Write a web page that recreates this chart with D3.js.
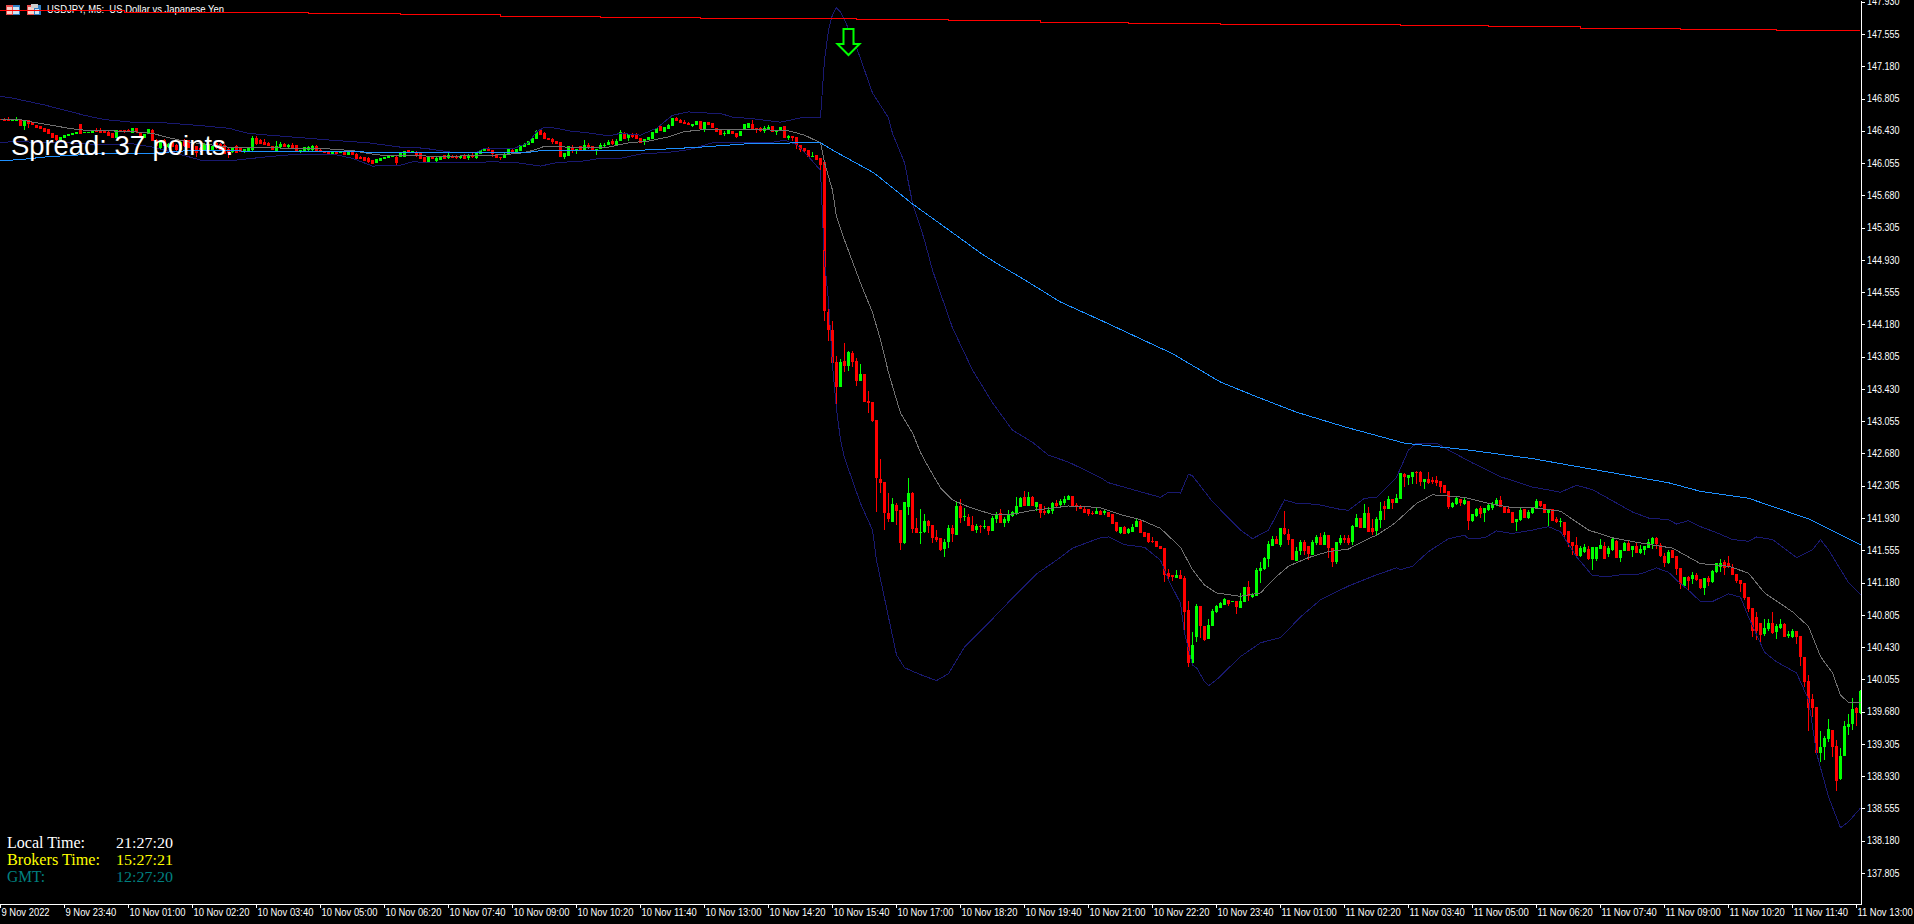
<!DOCTYPE html>
<html><head><meta charset="utf-8">
<style>html,body{margin:0;padding:0;background:#000;overflow:hidden}svg{display:block}</style>
<script src="https://cdnjs.cloudflare.com/ajax/libs/d3/7.8.5/d3.min.js"></script>
</head><body><svg id="c" width="1914" height="924"></svg>
<script>
const title = "USDJPY, M5:  US Dollar vs Japanese Yen";
const spreadText = "Spread: 37 points.";
const timeLabels = ["9 Nov 2022","9 Nov 23:40","10 Nov 01:00","10 Nov 02:20","10 Nov 03:40","10 Nov 05:00","10 Nov 06:20","10 Nov 07:40","10 Nov 09:00","10 Nov 10:20","10 Nov 11:40","10 Nov 13:00","10 Nov 14:20","10 Nov 15:40","10 Nov 17:00","10 Nov 18:20","10 Nov 19:40","10 Nov 21:00","10 Nov 22:20","10 Nov 23:40","11 Nov 01:00","11 Nov 02:20","11 Nov 03:40","11 Nov 05:00","11 Nov 06:20","11 Nov 07:40","11 Nov 09:00","11 Nov 10:20","11 Nov 11:40","11 Nov 13:00"];
const priceTicks = [147.930,147.555,147.180,146.805,146.430,146.055,145.680,145.305,144.930,144.555,144.180,143.805,143.430,143.055,142.680,142.305,141.930,141.555,141.180,140.805,140.430,140.055,139.680,139.305,138.930,138.555,138.180,137.805];
const clockRows = ["Local Time:","Brokers Time:","GMT:"];
const clockValues = ["21:27:20","15:27:21","12:27:20"];
const sellBar = 212, sellPrice = 147.31;

const opens = [
146.57,146.57,146.57,146.54,146.54,146.55,146.49,146.55,146.53,146.50,
146.48,146.46,146.45,146.41,146.38,146.32,146.35,146.37,146.38,146.39,
146.51,146.40,146.41,146.41,146.44,146.44,146.43,146.42,146.40,146.35,
146.44,146.44,146.44,146.41,146.46,146.41,146.35,146.39,146.44,146.32,
146.23,146.32,146.24,146.30,146.27,146.21,146.32,146.32,146.28,146.25,
146.23,146.21,146.21,146.21,146.29,146.28,146.27,146.22,146.18,146.25,
146.23,146.18,146.19,146.21,146.35,146.32,146.30,146.29,146.25,146.20,
146.24,146.28,146.24,146.27,146.26,146.18,146.20,146.21,146.21,146.25,
146.21,146.19,146.18,146.15,146.20,146.17,146.20,146.15,146.18,146.16,
146.13,146.12,146.11,146.09,146.05,146.08,146.10,146.11,146.12,146.13,
146.12,146.13,146.21,146.17,146.18,146.17,146.13,146.07,146.13,146.08,
146.09,146.15,146.11,146.14,146.14,146.11,146.14,146.11,146.15,146.11,
146.16,146.19,146.23,146.21,146.16,146.13,146.11,146.16,146.21,146.18,
146.19,146.24,146.26,146.29,146.34,146.44,146.40,146.35,146.33,146.31,
146.30,146.12,146.14,146.24,146.19,146.25,146.21,146.27,146.25,146.21,
146.22,146.25,146.26,146.31,146.27,146.31,146.41,146.35,146.39,146.38,
146.35,146.30,146.32,146.34,146.40,146.48,146.42,146.45,146.48,146.58,
146.56,146.53,146.52,146.49,146.50,146.54,146.45,146.53,146.52,146.46,
146.44,146.39,146.39,146.43,146.41,146.37,146.44,146.46,146.51,146.46,
146.46,146.43,146.44,146.48,146.42,146.43,146.48,146.35,146.37,146.36,
146.27,146.23,146.21,146.12,146.15,146.11,146.07,144.32,144.12,143.74,
143.45,143.76,143.70,143.85,143.76,143.52,143.60,143.29,143.28,143.07,
142.38,142.35,141.99,141.88,142.08,142.02,141.64,142.06,142.22,141.81,
141.76,141.77,141.90,141.85,141.71,141.70,141.57,141.65,141.81,141.73,
142.07,141.94,141.94,141.85,141.79,141.84,141.82,141.84,141.78,141.92,
141.99,141.87,141.90,141.95,141.98,142.06,142.17,142.07,142.17,142.06,
142.09,142.01,141.99,142.01,142.10,142.08,142.10,142.14,142.19,142.08,
142.07,142.04,142.03,141.99,141.98,142.01,141.99,142.00,141.98,141.88,
141.76,141.83,141.76,141.77,141.82,141.90,141.77,141.76,141.66,141.66,
141.60,141.58,141.29,141.27,141.23,141.27,141.23,140.86,140.25,140.55,
140.91,140.68,140.52,140.68,140.84,140.88,140.92,140.98,140.95,140.97,
140.89,140.95,141.13,141.01,141.02,141.32,141.34,141.45,141.61,141.69,
141.62,141.81,141.75,141.69,141.43,141.55,141.65,141.60,141.50,141.64,
141.71,141.62,141.73,141.58,141.42,141.64,141.70,141.70,141.65,141.83,
141.93,141.81,141.99,141.81,141.78,141.91,142.07,142.03,142.15,142.10,
142.15,142.44,142.40,142.41,142.47,142.47,142.35,142.38,142.37,142.37,
142.36,142.31,142.24,142.06,142.09,142.15,142.09,142.13,141.90,141.95,
142.05,141.99,142.02,142.05,142.09,142.14,142.07,142.03,142.00,141.88,
141.91,142.03,141.93,141.99,142.05,142.13,142.09,141.99,142.03,141.92,
141.88,141.88,141.78,141.65,141.62,141.49,141.54,141.57,141.45,141.45,
141.57,141.60,141.51,141.56,141.66,141.47,141.55,141.64,141.56,141.60,
141.52,141.56,141.58,141.63,141.70,141.62,141.49,141.41,141.56,141.49,
141.35,141.14,141.25,141.22,141.27,141.22,141.12,141.23,141.19,141.30,
141.36,141.42,141.41,141.36,141.28,141.21,141.17,141.01,140.88,140.78,
140.71,140.58,140.64,140.71,140.61,140.65,140.70,140.56,140.55,140.62,
140.56,140.32,140.04,139.83,139.73,139.20,139.27,139.36,139.47,139.28,
138.90,139.17,139.50,139.54,139.72,139.66];

const highs = [
146.57,146.58,146.59,146.56,146.59,146.55,146.54,146.56,146.53,146.50,
146.48,146.46,146.45,146.41,146.38,146.36,146.38,146.39,146.40,146.42,
146.51,146.42,146.42,146.43,146.46,146.46,146.44,146.43,146.40,146.44,
146.44,146.44,146.45,146.46,146.46,146.42,146.39,146.45,146.45,146.33,
146.31,146.33,146.29,146.31,146.28,146.31,146.33,146.32,146.29,146.25,
146.24,146.29,146.28,146.25,146.30,146.29,146.28,146.23,146.24,146.26,
146.24,146.22,146.24,146.37,146.37,146.33,146.33,146.30,146.25,146.31,
146.30,146.29,146.28,146.29,146.27,146.21,146.24,146.25,146.26,146.26,
146.22,146.19,146.19,146.20,146.20,146.19,146.21,146.18,146.18,146.17,
146.14,146.13,146.12,146.09,146.10,146.11,146.12,146.14,146.15,146.14,
146.18,146.19,146.21,146.20,146.19,146.17,146.13,146.13,146.14,146.12,
146.14,146.15,146.17,146.15,146.15,146.15,146.16,146.16,146.17,146.17,
146.21,146.23,146.24,146.21,146.16,146.13,146.18,146.22,146.23,146.22,
146.27,146.29,146.31,146.35,146.44,146.45,146.42,146.35,146.35,146.31,
146.30,146.17,146.25,146.26,146.22,146.25,146.32,146.29,146.25,146.22,
146.29,146.29,146.32,146.33,146.33,146.44,146.42,146.39,146.41,146.40,
146.35,146.33,146.36,146.42,146.46,146.50,146.47,146.51,146.58,146.59,
146.57,146.56,146.53,146.51,146.54,146.54,146.53,146.53,146.52,146.46,
146.44,146.43,146.44,146.43,146.41,146.43,146.51,146.52,146.55,146.46,
146.47,146.48,146.50,146.48,146.43,146.47,146.48,146.38,146.37,146.36,
146.27,146.23,146.21,146.18,146.15,146.11,146.07,144.44,144.22,143.81,
143.78,143.96,143.87,143.87,143.79,143.72,143.60,143.41,143.28,143.07,
142.62,142.35,142.22,142.16,142.10,142.02,142.12,142.40,142.23,141.93,
142.04,141.98,141.91,141.85,141.79,141.70,141.69,141.85,141.85,142.12,
142.15,142.05,141.98,141.95,141.86,141.85,141.91,141.84,141.95,142.00,
142.04,141.94,142.02,142.01,142.17,142.18,142.24,142.23,142.19,142.12,
142.09,142.07,142.06,142.12,142.14,142.15,142.19,142.20,142.19,142.10,
142.08,142.07,142.03,142.01,142.06,142.02,142.04,142.00,141.98,141.88,
141.83,141.84,141.81,141.86,141.92,141.91,141.77,141.76,141.71,141.66,
141.60,141.58,141.34,141.27,141.33,141.33,141.26,140.97,140.61,140.93,
140.91,140.68,140.76,140.87,140.92,140.95,141.00,140.98,140.97,140.97,
141.06,141.13,141.20,141.06,141.35,141.42,141.48,141.66,141.72,141.72,
141.81,142.01,141.80,141.69,141.59,141.67,141.67,141.60,141.68,141.73,
141.76,141.77,141.73,141.58,141.65,141.73,141.73,141.73,141.85,141.98,
141.93,142.09,142.06,141.92,141.94,142.12,142.13,142.19,142.15,142.21,
142.45,142.45,142.43,142.47,142.48,142.48,142.38,142.47,142.41,142.42,
142.36,142.31,142.24,142.12,142.17,142.15,142.16,142.13,141.98,142.05,
142.07,142.05,142.10,142.12,142.16,142.19,142.07,142.07,142.00,141.92,
142.05,142.04,142.02,142.06,142.15,142.13,142.09,142.02,142.04,141.94,
141.93,141.88,141.78,141.65,141.71,141.61,141.63,141.61,141.59,141.59,
141.69,141.65,141.61,141.70,141.67,141.56,141.65,141.67,141.60,141.64,
141.62,141.61,141.69,141.71,141.71,141.64,141.52,141.56,141.56,141.49,
141.35,141.25,141.26,141.30,141.29,141.22,141.23,141.26,141.33,141.41,
141.45,141.44,141.49,141.40,141.28,141.21,141.17,141.01,140.88,140.84,
140.71,140.76,140.76,140.84,140.70,140.76,140.71,140.62,140.64,140.62,
140.56,140.32,140.11,139.89,139.73,139.46,139.40,139.59,139.47,139.35,
139.26,139.57,139.65,139.84,139.73,139.93];

const lows = [
146.55,146.54,146.54,146.54,146.54,146.48,146.44,146.46,146.50,146.46,
146.45,146.42,146.39,146.35,146.31,146.32,146.35,146.37,146.38,146.39,
146.39,146.40,146.41,146.41,146.42,146.41,146.40,146.37,146.35,146.35,
146.42,146.41,146.42,146.41,146.41,146.36,146.35,146.39,146.31,146.24,
146.22,146.25,146.23,146.24,146.20,146.20,146.24,146.23,146.20,146.12,
146.18,146.20,146.19,146.20,146.22,146.20,146.16,146.11,146.17,146.17,
146.18,146.17,146.18,146.20,146.27,146.28,146.26,146.25,146.21,146.20,
146.23,146.24,146.23,146.23,146.18,146.17,146.20,146.20,146.20,146.20,
146.19,146.17,146.15,146.15,146.16,146.17,146.15,146.15,146.15,146.09,
146.10,146.08,146.06,146.04,146.05,146.08,146.10,146.11,146.12,146.03,
146.12,146.13,146.18,146.17,146.13,146.10,146.07,146.07,146.10,146.07,
146.09,146.10,146.10,146.11,146.10,146.10,146.10,146.09,146.11,146.10,
146.16,146.19,146.20,146.13,146.11,146.09,146.11,146.16,146.18,146.18,
146.19,146.24,146.26,146.29,146.34,146.38,146.33,146.32,146.28,146.28,
146.13,146.10,146.14,146.17,146.16,146.21,146.21,146.23,146.20,146.15,
146.22,146.24,146.26,146.26,146.26,146.31,146.34,146.31,146.35,146.33,
146.29,146.27,146.32,146.34,146.40,146.43,146.42,146.45,146.48,146.54,
146.52,146.51,146.50,146.47,146.50,146.45,146.42,146.50,146.46,146.42,
146.38,146.37,146.39,146.39,146.35,146.37,146.44,146.46,146.45,146.40,
146.42,146.41,146.44,146.42,146.38,146.43,146.35,146.32,146.31,146.22,
146.18,146.17,146.12,146.12,146.09,145.97,144.22,143.99,143.65,143.17,
143.45,143.63,143.64,143.69,143.46,143.52,143.28,143.15,143.05,142.00,
142.22,141.79,141.88,141.88,141.85,141.56,141.63,141.97,141.76,141.76,
141.63,141.76,141.76,141.64,141.65,141.55,141.48,141.58,141.65,141.73,
141.87,141.90,141.84,141.78,141.76,141.76,141.80,141.73,141.78,141.87,
141.87,141.83,141.87,141.94,141.97,142.06,142.07,142.07,142.07,142.01,
141.93,141.97,141.98,141.98,142.05,142.07,142.08,142.14,142.07,142.01,
142.03,141.99,141.95,141.96,141.98,141.97,141.97,141.94,141.86,141.77,
141.75,141.75,141.75,141.77,141.82,141.76,141.71,141.64,141.64,141.59,
141.57,141.19,141.21,141.20,141.23,141.22,140.61,140.20,140.25,140.49,
140.53,140.50,140.52,140.68,140.83,140.88,140.92,140.91,140.95,140.82,
140.89,140.95,140.97,141.00,141.02,141.18,141.33,141.36,141.61,141.63,
141.59,141.73,141.62,141.44,141.43,141.50,141.50,141.44,141.50,141.62,
141.62,141.62,141.47,141.36,141.40,141.62,141.64,141.62,141.62,141.82,
141.81,141.81,141.77,141.73,141.73,141.81,141.91,142.03,142.03,142.10,
142.15,142.29,142.31,142.33,142.33,142.30,142.27,142.33,142.32,142.30,
142.22,142.22,142.03,142.05,142.08,142.07,142.08,141.79,141.88,141.94,
141.93,141.88,142.01,142.02,142.07,142.06,141.99,141.99,141.87,141.78,
141.90,141.93,141.92,141.98,142.03,142.06,141.99,141.84,141.90,141.87,
141.83,141.71,141.59,141.50,141.48,141.48,141.52,141.44,141.33,141.43,
141.57,141.45,141.48,141.55,141.47,141.42,141.55,141.55,141.48,141.52,
141.51,141.50,141.58,141.57,141.57,141.48,141.36,141.40,141.47,141.27,
141.11,141.12,141.09,141.16,141.20,141.11,141.04,141.14,141.18,141.29,
141.30,141.27,141.35,141.27,141.18,141.07,140.98,140.84,140.55,140.51,
140.48,140.56,140.62,140.58,140.52,140.64,140.55,140.54,140.54,140.47,
140.21,139.97,139.46,139.62,139.20,139.10,139.12,139.33,139.15,138.76,
138.89,139.17,139.41,139.47,139.51,139.65];

const closes = [
146.55,146.54,146.54,146.56,146.57,146.49,146.54,146.51,146.50,146.46,
146.45,146.42,146.39,146.35,146.32,146.36,146.38,146.39,146.40,146.42,
146.39,146.42,146.42,146.43,146.42,146.41,146.40,146.37,146.35,146.44,
146.42,146.42,146.42,146.46,146.42,146.36,146.39,146.45,146.31,146.25,
146.30,146.25,146.28,146.24,146.21,146.30,146.25,146.23,146.20,146.17,
146.19,146.28,146.27,146.25,146.23,146.21,146.16,146.17,146.24,146.17,
146.18,146.22,146.23,146.35,146.28,146.28,146.26,146.25,146.21,146.25,
146.28,146.24,146.27,146.23,146.18,146.21,146.24,146.24,146.25,146.20,
146.19,146.17,146.15,146.20,146.16,146.19,146.15,146.18,146.15,146.10,
146.10,146.08,146.07,146.04,146.10,146.11,146.12,146.14,146.15,146.05,
146.18,146.19,146.18,146.20,146.15,146.10,146.07,146.13,146.10,146.11,
146.14,146.10,146.15,146.11,146.11,146.14,146.10,146.15,146.13,146.17,
146.21,146.23,146.20,146.16,146.11,146.11,146.16,146.22,146.18,146.22,
146.27,146.28,146.31,146.35,146.43,146.38,146.33,146.32,146.30,146.28,
146.13,146.17,146.25,146.19,146.22,146.21,146.27,146.23,146.20,146.22,
146.27,146.27,146.30,146.28,146.31,146.42,146.34,146.39,146.36,146.34,
146.29,146.33,146.36,146.42,146.46,146.43,146.47,146.50,146.58,146.54,
146.52,146.51,146.50,146.51,146.54,146.45,146.53,146.50,146.46,146.42,
146.38,146.41,146.44,146.39,146.36,146.43,146.51,146.52,146.45,146.45,
146.43,146.46,146.47,146.42,146.43,146.47,146.35,146.37,146.35,146.27,
146.21,146.19,146.13,146.14,146.09,146.03,144.34,144.12,143.73,143.45,
143.74,143.70,143.86,143.74,143.52,143.60,143.28,143.27,143.06,142.40,
142.34,141.99,141.92,142.09,142.01,141.64,142.12,142.22,141.80,141.76,
141.77,141.90,141.84,141.70,141.67,141.56,141.65,141.81,141.75,142.07,
141.93,141.95,141.84,141.78,141.84,141.83,141.84,141.78,141.93,141.98,
141.87,141.92,141.97,142.00,142.07,142.16,142.07,142.17,142.07,142.12,
141.99,141.99,142.02,142.10,142.07,142.13,142.15,142.19,142.07,142.06,
142.03,141.99,141.98,141.98,142.01,141.97,142.01,141.94,141.86,141.78,
141.82,141.75,141.80,141.83,141.90,141.76,141.71,141.65,141.65,141.59,
141.57,141.27,141.25,141.25,141.27,141.22,140.84,140.25,140.45,140.91,
140.68,140.51,140.69,140.85,140.91,140.94,140.99,140.93,140.97,140.90,
140.97,141.13,141.02,141.03,141.33,141.35,141.46,141.63,141.69,141.63,
141.81,141.74,141.68,141.44,141.55,141.65,141.55,141.51,141.65,141.71,
141.62,141.73,141.58,141.42,141.65,141.70,141.68,141.64,141.84,141.93,
141.81,141.99,141.77,141.77,141.92,142.01,142.03,142.15,142.10,142.16,
142.45,142.41,142.43,142.47,142.45,142.35,142.38,142.34,142.35,142.34,
142.29,142.22,142.06,142.11,142.16,142.10,142.14,141.90,141.98,142.04,
141.98,142.05,142.08,142.09,142.14,142.06,141.99,141.99,141.87,141.92,
142.02,141.93,142.00,142.05,142.13,142.07,141.99,142.02,141.90,141.88,
141.90,141.73,141.64,141.61,141.49,141.58,141.59,141.45,141.59,141.59,
141.62,141.45,141.58,141.69,141.47,141.56,141.64,141.55,141.60,141.52,
141.57,141.60,141.65,141.70,141.63,141.49,141.41,141.54,141.47,141.34,
141.16,141.25,141.20,141.27,141.21,141.12,141.23,141.19,141.31,141.41,
141.41,141.35,141.36,141.27,141.20,141.16,141.00,140.87,140.62,140.62,
140.57,140.65,140.71,140.59,140.67,140.70,140.55,140.58,140.62,140.55,
140.32,140.03,139.72,139.72,139.20,139.27,139.37,139.48,139.27,138.87,
139.17,139.51,139.54,139.71,139.66,139.92];

// Long moving average, red (step line)
const redBars = [0,31,53,77,100,125,150,175,200,214,237,260,282,305,327,350,372,395,420,444,465];
const redVals = [147.83,147.81,147.80,147.79,147.78,147.76,147.75,147.74,147.73,147.72,147.71,147.69,147.68,147.67,147.66,147.65,147.64,147.62,147.61,147.60,147.60];

// Moving average, blue
const blueBars = [0,6,12,20,24,38,47,100,132,135,158,167,175,187,200,205,209,218,220,228,237,245,248,257,265,275,293,305,314,324,336,351,367,383,400,417,425,437,452,465];
const blueVals = [146.08,146.10,146.13,146.15,146.17,146.17,146.20,146.18,146.18,146.20,146.20,146.22,146.24,146.28,146.29,146.29,146.18,145.95,145.88,145.58,145.28,145.01,144.92,144.67,144.44,144.23,143.84,143.51,143.34,143.16,142.99,142.80,142.72,142.62,142.48,142.34,142.24,142.16,141.92,141.62];

// Bollinger middle, grey
const midBars = [0,5,8,12,17,20,27,33,38,42,47,52,57,63,70,75,82,88,94,100,105,110,117,125,130,133,136,142,147,152,157,162,167,171,175,180,187,192,197,201,205,206,208,209,211,213,215,218,220,222,225,228,230,232,235,238,242,248,252,255,258,262,267,272,275,280,285,290,295,298,301,304,310,315,319,322,327,332,337,342,344,348,350,354,358,366,372,378,383,390,397,403,410,418,425,432,437,441,448,452,455,458,460,462,465];
const midVals = [146.56,146.56,146.53,146.50,146.46,146.44,146.43,146.42,146.40,146.35,146.30,146.27,146.24,146.24,146.23,146.23,146.22,146.20,146.15,146.14,146.14,146.13,146.14,146.15,146.17,146.20,146.25,146.24,146.23,146.24,146.29,146.31,146.36,146.42,146.44,146.45,146.44,146.44,146.43,146.38,146.29,146.06,145.74,145.43,145.16,144.91,144.66,144.32,144.00,143.62,143.15,142.92,142.69,142.52,142.28,142.14,142.06,141.97,141.97,141.99,142.02,142.04,142.07,142.06,142.05,141.97,141.91,141.81,141.59,141.33,141.15,141.06,141.02,141.06,141.25,141.37,141.47,141.54,141.57,141.69,141.73,141.85,141.93,142.10,142.20,142.17,142.10,142.05,142.05,142.01,141.79,141.70,141.64,141.58,141.40,141.37,141.29,141.06,140.84,140.67,140.32,140.13,139.87,139.79,139.79];

// Bollinger upper
const upBars = [0,3,11,21,26,33,42,50,57,62,67,83,92,100,103,107,113,119,121,128,132,134,136,139,142,148,152,155,160,164,168,172,175,180,183,188,195,200,205,206,207,208,209,210,211,214,218,222,223,226,228,231,233,238,243,248,253,258,262,267,275,277,290,292,295,297,298,303,310,313,317,321,324,329,335,337,341,344,349,350,352,354,359,362,368,375,383,390,394,398,408,412,417,419,422,425,429,433,437,439,443,449,453,455,457,462,465];
const upVals = [146.83,146.81,146.73,146.61,146.56,146.53,146.52,146.49,146.46,146.40,146.38,146.32,146.29,146.24,146.24,146.22,146.18,146.18,146.23,146.22,146.29,146.42,146.47,146.46,146.43,146.40,146.37,146.40,146.38,146.46,146.61,146.65,146.64,146.63,146.59,146.57,146.53,146.58,146.59,147.25,147.60,147.78,147.86,147.81,147.72,147.40,146.87,146.58,146.40,146.06,145.59,145.16,144.81,144.14,143.65,143.27,142.95,142.81,142.66,142.58,142.40,142.34,142.17,142.23,142.22,142.44,142.42,142.12,141.79,141.69,141.79,142.14,142.10,142.09,142.03,142.02,142.16,142.17,142.40,142.51,142.72,142.80,142.80,142.72,142.57,142.41,142.29,142.23,142.31,142.26,142.00,141.93,141.91,141.86,141.90,141.83,141.76,141.68,141.66,141.71,141.68,141.47,141.56,141.68,141.56,141.18,141.04];

// Bollinger lower
const lowBars = [0,4,10,17,25,33,38,43,50,57,67,75,83,88,93,100,103,108,117,123,129,135,139,146,150,155,160,167,172,178,183,192,196,199,202,205,206,207,208,209,210,211,215,218,219,221,224,226,230,234,237,241,247,253,259,264,268,272,275,277,281,286,290,292,295,296,298,299,301,302,304,310,315,320,325,330,337,344,349,350,353,357,362,366,367,371,374,378,383,387,390,394,398,402,405,410,414,417,419,422,425,428,432,435,437,441,444,449,452,454,457,460,462,465];
const lowVals = [146.29,146.31,146.29,146.29,146.27,146.28,146.24,146.18,146.09,146.08,146.13,146.16,146.16,146.11,146.02,146.03,146.07,146.06,146.06,146.07,146.06,146.02,146.06,146.08,146.11,146.11,146.16,146.18,146.21,146.29,146.29,146.29,146.32,146.27,146.13,145.97,144.91,144.46,143.71,143.19,142.84,142.63,142.10,141.79,141.44,141.00,140.34,140.19,140.11,140.04,140.12,140.43,140.71,141.00,141.28,141.44,141.58,141.65,141.70,141.71,141.62,141.59,141.44,141.21,140.94,140.59,140.22,140.19,140.03,139.98,140.05,140.32,140.48,140.54,140.78,140.98,141.14,141.27,141.35,141.33,141.37,141.54,141.69,141.73,141.69,141.70,141.78,141.75,141.79,141.83,141.77,141.48,141.26,141.25,141.27,141.28,141.35,141.30,141.21,141.09,140.96,140.96,141.05,141.01,140.78,140.37,140.26,140.13,139.82,139.20,138.69,138.33,138.40,138.56];

const W = 1914, H = 924, plotR = 1861, plotB = 904;
const svg = d3.select("#c");
svg.append("rect").attr("width", W).attr("height", H).attr("fill", "#000");

const x = d3.scaleLinear().domain([0, 465.25]).range([0, plotR]);
const y = d3.scaleLinear().domain([147.95, 137.4445]).range([0, plotB]);

// Title icons
const icons = svg.append("g").attr("shape-rendering", "crispEdges");
const box = (bx,by,bw,bh,f) => icons.append("rect").attr("x",bx).attr("y",by).attr("width",bw).attr("height",bh).attr("fill",f);
box(6,5,7,10,"#e84c4c"); box(13,5,7,10,"#2f7fc4");
box(7,7,5,3,"#f8d0c8"); box(7,11,5,3,"#f8d0c8");
box(13,7,6,3,"#cfe4f4"); box(13,11,6,3,"#cfe4f4");
box(27,5,7,10,"#e84c4c"); box(34,5,7,10,"#2f7fc4");
box(28,7,6,7,"#f8d0c8"); box(35,9,4,5,"#cfe4f4");
box(31,4,7,4,"#cccccc");

svg.append("text").attr("x",47).attr("y",13).attr("fill","#fff")
  .attr("font-family","Liberation Sans").attr("font-size",11)
  .attr("xml:space","preserve").style("white-space","pre")
  .attr("textLength",177).attr("lengthAdjust","spacingAndGlyphs").text(title);

// Candles
const bars = d3.range(opens.length);
const cg = svg.append("g").attr("shape-rendering","crispEdges");
const col = i => closes[i] >= opens[i] ? "#00ff00" : "#ff0000";
cg.selectAll("rect.w").data(bars).join("rect").attr("class","w")
  .attr("x", i=>x(i)).attr("width",1)
  .attr("y", i=>y(highs[i])).attr("height", i=>Math.max(1,y(lows[i])-y(highs[i])))
  .attr("fill", col);
cg.selectAll("rect.b").data(bars).join("rect").attr("class","b")
  .attr("x", i=>x(i)-1).attr("width",3)
  .attr("y", i=>y(Math.max(opens[i],closes[i])))
  .attr("height", i=>Math.max(1,Math.abs(y(opens[i])-y(closes[i]))))
  .attr("fill", col);

// Indicators
const pairs = (a,b)=>a.map((v,k)=>[v,b[k]]);
const lineGen = d3.line().x(d=>x(d[0])+0.5).y(d=>y(d[1]));
const stepGen = d3.line().x(d=>x(d[0])).y(d=>y(d[1])).curve(d3.curveStepAfter);
const lg = svg.append("g").attr("fill","none").attr("shape-rendering","crispEdges");
lg.append("path").attr("d",lineGen(pairs(upBars,upVals))).attr("stroke","#191970").attr("stroke-width",1);
lg.append("path").attr("d",lineGen(pairs(lowBars,lowVals))).attr("stroke","#191970").attr("stroke-width",1);
lg.append("path").attr("d",lineGen(pairs(midBars,midVals))).attr("stroke","#707070").attr("stroke-width",1);
lg.append("path").attr("d",lineGen(pairs(blueBars,blueVals))).attr("stroke","#1e90ff").attr("stroke-width",1);
lg.append("path").attr("d",stepGen(pairs(redBars,redVals))).attr("stroke","#ff0000").attr("stroke-width",1);

// Sell arrow (fixed glyph anchored at its bar/price)
const ax = x(sellBar)+0.5, ay = y(sellPrice);
const arrow = [[-5,-26],[5,-26],[5,-11],[11,-11],[0,0],[-11,-11],[-5,-11]];
svg.append("path").attr("d", d3.line()(arrow.map(p=>[ax+p[0],ay+p[1]]))+"Z")
  .attr("fill","#000").attr("stroke","#00ff00").attr("stroke-width",2);

// Axes
const small = (sel,f) => sel.selectAll("text").attr("font-family","Liberation Sans").attr("font-size",10).attr("fill","#fff")
  .each(function(){ this.setAttribute("textLength",(this.getComputedTextLength()*f).toFixed(1)); this.setAttribute("lengthAdjust","spacingAndGlyphs"); });
const yAxis = d3.axisRight(y).tickValues(priceTicks).tickFormat(d3.format(".3f")).tickSizeInner(4).tickSizeOuter(0).tickPadding(2);
const xAxis = d3.axisBottom(x).tickValues(timeLabels.map((_,k)=>k*16)).tickFormat((d,k)=>timeLabels[k]).tickSizeInner(4).tickSizeOuter(0).tickPadding(2);
const gy = svg.append("g").attr("transform",`translate(${plotR},0)`).call(yAxis);
const gx = svg.append("g").attr("transform",`translate(0,${plotB})`).call(xAxis);
[gy,gx].forEach(g=>{ g.attr("font-family",null).attr("font-size",null);
  g.selectAll("path,line").attr("stroke","#fff").attr("shape-rendering","crispEdges"); });
small(gy,0.90);
gx.selectAll("text").attr("text-anchor","start").attr("x",1).attr("y",5);
small(gx,0.94);

// Overlay texts
svg.append("text").attr("x",11).attr("y",155).attr("fill","#fff")
  .attr("font-family","Liberation Sans").attr("font-size",27.4).text(spreadText);
const clockCols = ["#ffffff","#ffff00","#008080"];
const clockY = [848,865,882];
const labelLen = [78,93,38];
clockRows.forEach((t,k)=>{
  svg.append("text").attr("x",7).attr("y",clockY[k]).attr("fill",clockCols[k])
   .attr("font-family","Liberation Serif").attr("font-size",16)
   .attr("textLength",labelLen[k]).attr("lengthAdjust","spacingAndGlyphs").text(t);
  svg.append("text").attr("x",116).attr("y",clockY[k]).attr("fill",clockCols[k])
   .attr("font-family","Liberation Serif").attr("font-size",14.5)
   .attr("textLength",57).attr("lengthAdjust","spacingAndGlyphs").text(clockValues[k]);
});
</script></body></html>
